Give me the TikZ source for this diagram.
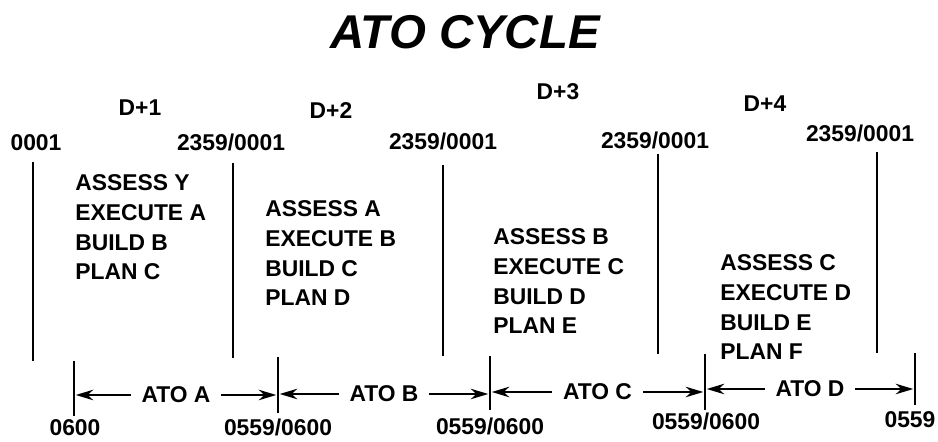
\documentclass[tikz,border=0pt]{standalone}
\usepackage{fontspec}
\setmainfont{Liberation Sans}
\usetikzlibrary{arrows.meta}
\tikzset{every node/.style={inner sep=0pt, font=\bfseries\fontsize{13}{17}\selectfont}}
\tikzset{
    tick/.style={line width=0.8pt},
    ato/.style={{Stealth[length=10pt,width=6pt]}-{Stealth[length=10pt,width=6pt]}, line width=1pt, shorten <=1pt, shorten >=1pt},
    atolabel/.style={fill=white, inner xsep=6pt, inner ysep=2pt},
    tasks/.style={anchor=north west, align=left},
}

\begin{document}
\begin{tikzpicture}[x=0.02cm, y=-0.02cm]
    \useasboundingbox (0,0) rectangle (938,442);
    \node[font=\bfseries\itshape\fontsize{27}{30}\selectfont] (title) at (465,32) {ATO CYCLE};
    % days
    \foreach \n/\x/\y in {1/140/108, 2/331/111, 3/558/92, 4/765/104}{
        \node (day\n) at (\x,\y) {D+\n};
    }
    % midnight lines
    \foreach \n/\x/\ya/\yb in {0/33/162/361, 1/233/163/358, 2/443/165/356, 3/658/154/354, 4/877/152/353}{
        \coordinate (mtop\n) at (\x,\ya);
        \coordinate (mbot\n) at (\x,\yb);
        \draw[tick] (mtop\n) -- (mbot\n);
    }
    \node (mid0) at (36,143) {0001};
    \node (mid1) at (231,142) {2359/0001};
    \node (mid2) at (443,141) {2359/0001};
    \node (mid3) at (655,140) {2359/0001};
    \node (mid4) at (860,133) {2359/0001};
    % tasks
    \node[tasks] (task1) at (75,174) {ASSESS Y\\EXECUTE A\\BUILD B\\PLAN C};
    \node[tasks] (task2) at (265,200) {ASSESS A\\EXECUTE B\\BUILD C\\PLAN D};
    \node[tasks] (task3) at (493,228) {ASSESS B\\EXECUTE C\\BUILD D\\PLAN E};
    \node[tasks] (task4) at (720,254) {ASSESS C\\EXECUTE D\\BUILD E\\PLAN F};
    % ATO lines
    \foreach \n/\x/\ya/\yb in {0/74/361/416, 1/278/357/413, 2/490/356/410, 3/705/354/410, 4/915/353/405}{
        \draw[tick] (\x,\ya) -- (\x,\yb);
    }
    \foreach \n/\xa/\xb/\y/\l in {1/74/278/395/A, 2/278/490/394/B, 3/490/705/392/C, 4/705/915/389/D}{
        \coordinate (ato\n a) at (\xa,\y);
        \coordinate (ato\n b) at (\xb,\y);
        \draw[ato] (ato\n a) -- node[atolabel] (atoname\n) {ATO \l} (ato\n b);
    }
    \node (time0) at (75,428) {0600};
    \node (time1) at (278,427) {0559/0600};
    \node (time2) at (490,426) {0559/0600};
    \node (time3) at (706,421) {0559/0600};
    \node (time4) at (910,420) {0559};
\end{tikzpicture}
\end{document}
